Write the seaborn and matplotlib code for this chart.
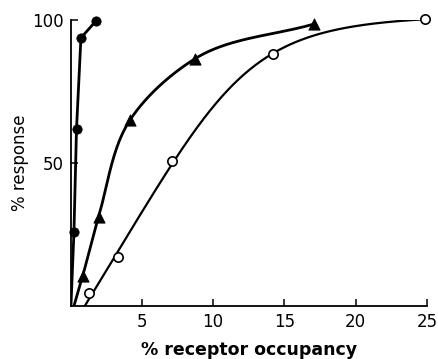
import numpy as np
import pandas as pd
import matplotlib
matplotlib.use("Agg")
import matplotlib.pyplot as plt
import seaborn as sns

# Data
x_filled = [0.24, 0.42, 0.73, 1.76]
y_filled = [25.8, 61.9, 93.7, 99.5]
x_tri = [0.85, 1.97, 4.17, 8.72, 17.1]
y_tri = [10.5, 31.2, 65.0, 86.4, 98.6]
x_open = [1.31, 3.34, 7.1, 14.2, 24.85]
y_open = [4.6, 17.0, 50.7, 88.0, 100.3]
# x-axis intercepts where each drawn curve starts
x0_filled, x0_tri, x0_open = 0.03, 0.24, 1.0

xticks = [5, 10, 15, 20, 25]
yticks = [50, 100]


def sat(t, E, k, p):
    u = t / k
    return E * u / (1 + u**p) ** (1 / p)


def sat_fit(x0, xs, ys):
    """Weighted least-squares fit of a linear-start saturating curve (grid search)."""
    t = np.asarray(xs, float) - x0
    y = np.asarray(ys, float)
    w = np.ones_like(y); w[-1] = 4.0
    E = np.linspace(95, 140, 46)[:, None, None]
    K = np.linspace(0.2, 20, 199)[None, :, None]
    P = np.linspace(1.0, 5.0, 41)[None, None, :]
    err = 0
    for ti, yi, wi in zip(t, y, w):
        err = err + wi * (sat(ti, E, K, P) - yi) ** 2
    i, j, k = np.unravel_index(np.argmin(err), err.shape)
    return E.ravel()[i], K.ravel()[j], P.ravel()[k]


def catmull_rom(P, n=60, alpha=1.0):
    """Chordal Catmull-Rom spline through points P (N x 2)."""
    P = np.asarray(P, float)
    P = np.vstack([2 * P[0] - P[1], P, 2 * P[-1] - P[-2]])
    out = []
    for i in range(1, len(P) - 2):
        p0, p1, p2, p3 = P[i - 1], P[i], P[i + 1], P[i + 2]
        t0 = 0.0
        t1 = t0 + np.linalg.norm(p1 - p0) ** alpha
        t2 = t1 + np.linalg.norm(p2 - p1) ** alpha
        t3 = t2 + np.linalg.norm(p3 - p2) ** alpha
        t = np.linspace(t1, t2, n)[:, None]
        A1 = (t1 - t) / (t1 - t0) * p0 + (t - t0) / (t1 - t0) * p1
        A2 = (t2 - t) / (t2 - t1) * p1 + (t - t1) / (t2 - t1) * p2
        A3 = (t3 - t) / (t3 - t2) * p2 + (t - t2) / (t3 - t2) * p3
        B1 = (t2 - t) / (t2 - t0) * A1 + (t - t0) / (t2 - t0) * A2
        B2 = (t3 - t) / (t3 - t1) * A2 + (t - t1) / (t3 - t1) * A3
        C = (t2 - t) / (t2 - t1) * B1 + (t - t1) / (t2 - t1) * B2
        out.append(C)
    return np.vstack(out)


sns.set_style("ticks")
plt.rcParams["font.family"] = ["DejaVu Sans"]
plt.rcParams.update({"text.color": "black", "axes.labelcolor": "black",
                     "xtick.color": "black", "ytick.color": "black"})

fig = plt.figure(figsize=(4.38, 3.59), dpi=100)
ax = fig.add_axes([0.161, 0.1476, 0.814, 0.797])
ax.set_xlim(0, 25)
ax.set_ylim(0, 100)

# filled circles: straight segments
c1 = pd.DataFrame({"x": [x0_filled] + x_filled, "y": [0.0] + y_filled})
# triangles: smooth spline through the points, built in display space
pts = ax.transData.transform(np.column_stack([[x0_tri] + x_tri, [0.0] + y_tri]))
sp = ax.transData.inverted().transform(catmull_rom(pts))
c2 = pd.DataFrame({"x": sp[:, 0], "y": sp[:, 1]})
# open circles: fitted saturating curve
E, k, p = sat_fit(x0_open, x_open, y_open)
xq = np.linspace(x0_open, x_open[-1], 300)
c3 = pd.DataFrame({"x": xq, "y": sat(xq - x0_open, E, k, p)})

for c, lw in [(c1, 2.0), (c2, 2.0), (c3, 1.6)]:
    sns.lineplot(data=c, x="x", y="y", ax=ax, color="black", linewidth=lw,
                 sort=False, estimator=None)

sns.scatterplot(x=x_filled, y=y_filled, ax=ax, marker="o", s=45, color="black",
                edgecolor="black", zorder=5, clip_on=False)
sns.scatterplot(x=x_tri, y=y_tri, ax=ax, marker="^", s=65, color="black",
                edgecolor="black", zorder=5, clip_on=False)
sns.scatterplot(x=x_open, y=y_open, ax=ax, marker="o", s=45, color="white",
                edgecolor="black", linewidth=1.2, zorder=5, clip_on=False)

ax.set_xlim(0, 25)
ax.set_ylim(0, 100)
ax.set_xticks(xticks)
ax.set_yticks(yticks)
ax.set_xticklabels([str(v) for v in xticks], fontsize=12)
ax.set_yticklabels([str(v) for v in yticks], fontsize=12)
ax.tick_params(axis="both", direction="in", length=5, width=1.1, pad=5, color="black")
sns.despine(ax=ax)
for s in ("left", "bottom"):
    ax.spines[s].set_linewidth(1.3)
    ax.spines[s].set_color("black")
ax.set_xlabel("% receptor occupancy", fontsize=12.5, fontweight="bold", labelpad=7)
ax.set_ylabel("% response", fontsize=12, labelpad=2)

fig.savefig("out.png", dpi=100)
